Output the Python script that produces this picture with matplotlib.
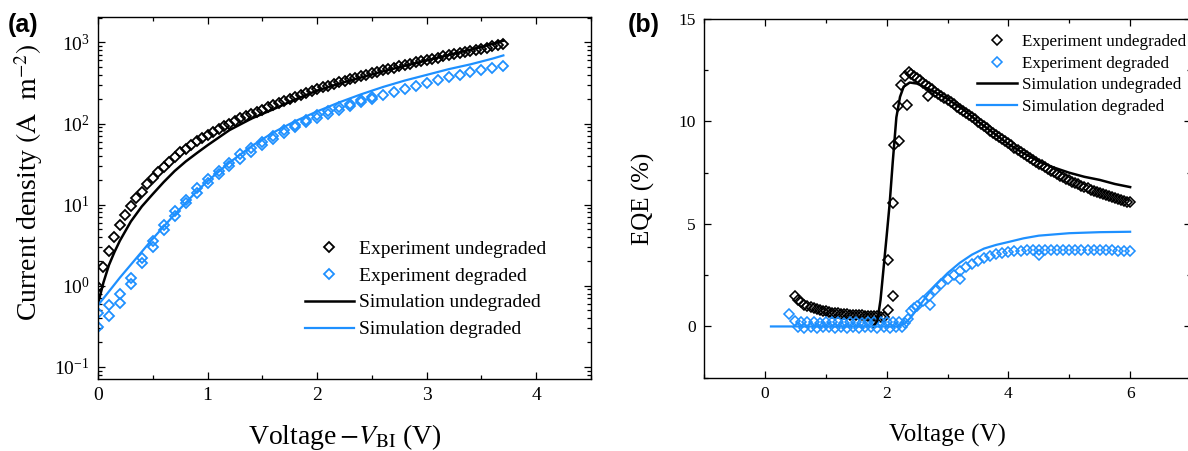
import numpy as np
import matplotlib
matplotlib.use("Agg")
import matplotlib.pyplot as plt
from matplotlib.lines import Line2D
from matplotlib.ticker import MultipleLocator, LogLocator, NullFormatter

plt.rcParams['font.family'] = ['Liberation Serif', 'DejaVu Serif']
plt.rcParams['mathtext.fontset'] = 'stix'

BLACK = '#000000'
BLUE = '#1E90FF'

# ---------------- Panel (a) data ----------------
a_exp_undeg_v = np.round(np.arange(0, 3.701, 0.05), 2)
a_exp_undeg_j = [0.96, 1.7, 2.7, 4.0, 5.6, 7.5, 9.5, 12, 14.5, 18, 21.5, 25, 29, 34, 38.5,
                 44, 49, 55, 61, 67, 73, 79, 86, 93, 100, 108, 116, 124, 132, 140, 148,
                 158, 168, 178, 189, 200, 212, 224, 236, 250, 265, 279, 293, 307, 321,
                 336, 351, 366, 383, 400, 418, 435, 452, 470, 488, 507, 526, 546, 566,
                 586, 607, 628, 650, 672, 695, 718, 742, 766, 790, 815, 840, 866, 893,
                 920, 950]
a_exp_deg_v = [0.0, 0.0, 0.1, 0.1, 0.2, 0.2, 0.3, 0.3, 0.4, 0.4, 0.5, 0.5, 0.6, 0.6, 0.7, 0.7,
               0.8, 0.8, 0.9, 0.9, 1.0, 1.0, 1.1, 1.1, 1.2, 1.2, 1.3, 1.3, 1.4, 1.4, 1.5, 1.5,
               1.6, 1.6, 1.7, 1.7, 1.8, 1.8, 1.9, 1.9, 2.0, 2.0, 2.1, 2.1, 2.2, 2.2, 2.3, 2.3,
               2.4, 2.4, 2.5, 2.5, 2.6, 2.7, 2.8, 2.9, 3.0, 3.1, 3.2, 3.3, 3.4, 3.5, 3.6, 3.7]
a_exp_deg_j = [0.31, 0.46, 0.42, 0.58, 0.62, 0.80, 1.05, 1.25, 1.9, 2.2, 3.0, 3.6, 4.9, 5.6,
               7.2, 8.4, 10.5, 11.5, 14, 16, 18.5, 21, 24, 26, 30, 33, 37, 42, 45, 50, 55, 60,
               65, 71, 77, 84, 90, 97, 103, 112, 118, 126, 132, 142, 148, 158, 165, 175,
               182, 195, 200, 210, 222, 244, 268, 292, 318, 345, 372, 400, 428, 458, 490, 515]
a_sim_undeg_v = [0, 0.05, 0.1, 0.15, 0.2, 0.3, 0.4, 0.5, 0.6, 0.7, 0.8, 0.9, 1.0, 1.2, 1.4,
                 1.6, 1.8, 2.0, 2.2, 2.4, 2.6, 2.8, 3.0, 3.2, 3.4, 3.6, 3.7]
a_sim_undeg_j = [0.6, 1.1, 1.8, 2.6, 3.6, 6.2, 9.5, 13.5, 19, 26, 34, 43, 54, 83, 115,
                 150, 198, 255, 310, 370, 440, 515, 600, 700, 815, 960, 1050]
a_sim_deg_v = [0, 0.1, 0.2, 0.3, 0.4, 0.5, 0.6, 0.7, 0.8, 0.9, 1.0, 1.2, 1.4, 1.6, 1.8,
               2.0, 2.2, 2.4, 2.6, 2.8, 3.0, 3.2, 3.4, 3.6, 3.7]
a_sim_deg_j = [0.575, 0.85, 1.26, 1.82, 2.63, 3.8, 5.37, 7.59, 10.5, 14.5, 19.5, 33, 52.5,
               77.6, 107, 141, 182, 229, 282, 339, 398, 468, 537, 631, 692]

# ---------------- Panel (b) data ----------------
b_exp_undeg_v = [0.50, 0.55, 0.60, 0.65, 0.70, 0.75, 0.80, 0.85, 0.90, 0.95, 1.00, 1.05, 1.10,
                 1.15, 1.20, 1.25, 1.30, 1.35, 1.40, 1.45, 1.50, 1.55, 1.60, 1.65, 1.70, 1.75,
                 1.80, 1.85, 1.90, 1.95,
                 2.03, 2.10, 2.03, 2.10, 2.12, 2.20, 2.18, 2.23, 2.30, 2.34, 2.37, 2.68,
                 2.40, 2.45, 2.50, 2.55, 2.60, 2.65, 2.70, 2.75, 2.80, 2.85, 2.90, 2.95, 3.00,
                 3.05, 3.10, 3.15, 3.20, 3.25, 3.30, 3.35, 3.40, 3.45, 3.50, 3.55, 3.60, 3.65,
                 3.70, 3.75, 3.80, 3.85, 3.90, 3.95, 4.00, 4.05, 4.10, 4.15, 4.20, 4.25, 4.30,
                 4.35, 4.40, 4.45, 4.50, 4.55, 4.60, 4.65, 4.70, 4.75, 4.80, 4.85, 4.90, 4.95,
                 5.00, 5.05, 5.10, 5.15, 5.20, 5.25, 5.30, 5.35, 5.40, 5.45, 5.50, 5.55, 5.60,
                 5.65, 5.70, 5.75, 5.80, 5.85, 5.90, 5.95, 6.00]
b_exp_undeg_eqe = [1.50, 1.30, 1.17, 1.07, 1.00, 0.93, 0.88, 0.83, 0.79, 0.76, 0.73, 0.70, 0.68,
                   0.66, 0.64, 0.62, 0.61, 0.59, 0.58, 0.57, 0.56, 0.55, 0.54, 0.53, 0.52, 0.51,
                   0.50, 0.49, 0.48, 0.47,
                   0.80, 1.50, 3.24, 6.00, 8.85, 9.06, 10.75, 11.80, 12.20, 10.80, 12.40, 11.25,
                   12.30, 12.20, 12.10, 12.00, 11.89, 11.78, 11.67, 11.57, 11.46, 11.36, 11.25,
                   11.15, 11.04, 10.94, 10.83, 10.73, 10.62, 10.52, 10.41, 10.31, 10.20, 10.10,
                   9.99, 9.88, 9.77, 9.67, 9.56, 9.45, 9.35, 9.24, 9.14, 9.03, 8.93, 8.83, 8.73,
                   8.63, 8.53, 8.43, 8.33, 8.23, 8.14, 8.04, 7.95, 7.86, 7.77, 7.69, 7.60, 7.52,
                   7.44, 7.36, 7.28, 7.21, 7.14, 7.07, 7.00, 6.93, 6.87, 6.80, 6.74, 6.68, 6.62,
                   6.56, 6.50, 6.45, 6.40, 6.35, 6.30, 6.25, 6.20, 6.16, 6.12, 6.09, 6.06]
b_exp_deg_v = [0.40, 0.50, 0.60, 0.70, 0.80, 0.90, 1.00, 1.10, 1.20, 1.30, 1.40, 1.50, 1.60,
               1.70, 1.80, 1.90, 2.00, 2.10, 2.20,
               0.55, 0.65, 0.75, 0.85, 0.95, 1.05, 1.15, 1.25, 1.35, 1.45, 1.55, 1.65, 1.75,
               1.85, 1.95, 2.05, 2.15, 2.25,
               2.30, 2.35, 2.40, 2.45, 2.50, 2.60, 2.71, 2.70, 2.80, 2.90, 3.00, 3.10, 3.20,
               3.20, 3.30, 3.40, 3.50, 3.60, 3.70, 3.80, 3.90, 4.00, 4.10, 4.20, 4.30, 4.40,
               4.50, 4.50, 4.60, 4.70, 4.80, 4.90, 5.00, 5.10, 5.20, 5.30, 5.40, 5.50, 5.60,
               5.70, 5.80, 5.90, 6.00]
b_exp_deg_eqe = [0.63, 0.28, 0.22, 0.20, 0.21, 0.19, 0.20, 0.22, 0.20, 0.19, 0.21, 0.20, 0.19,
                 0.20, 0.21, 0.20, 0.22, 0.20, 0.23,
                 -0.05, -0.06, -0.05, -0.06, -0.05, -0.05, -0.06, -0.05, -0.06, -0.05, -0.06,
                 -0.05, -0.05, -0.06, -0.05, -0.06, -0.05, -0.04,
                 0.15, 0.35, 0.75, 0.90, 1.00, 1.25, 1.04, 1.50, 1.78, 2.05, 2.30, 2.52, 2.72,
                 2.30, 2.90, 3.06, 3.20, 3.33, 3.43, 3.52, 3.58, 3.63, 3.67, 3.70, 3.72, 3.73,
                 3.74, 3.50, 3.75, 3.75, 3.75, 3.74, 3.74, 3.74, 3.73, 3.73, 3.72, 3.72, 3.71,
                 3.71, 3.70, 3.70, 3.70]
b_sim_undeg_v = [1.78, 1.85, 1.90, 2.00, 2.05, 2.10, 2.16, 2.22, 2.28, 2.38, 2.50, 2.75, 3.00,
                 3.25, 3.50, 3.75, 4.00, 4.25, 4.50, 4.75, 5.00, 5.25, 5.50, 5.75, 6.00]
b_sim_undeg_eqe = [0.0, 0.3, 1.3, 4.4, 6.0, 8.0, 10.2, 11.2, 11.7, 11.9, 11.85, 11.5, 11.1,
                   10.6, 10.0, 9.45, 8.9, 8.45, 8.05, 7.75, 7.5, 7.3, 7.15, 6.95, 6.8]
b_sim_deg_v = [0.1, 2.2, 2.3, 2.4, 2.5, 2.6, 2.7, 2.8, 3.0, 3.2, 3.4, 3.6, 3.8, 4.0, 4.25,
               4.5, 5.0, 5.5, 6.0]
b_sim_deg_eqe = [0.0, 0.0, 0.15, 0.45, 0.85, 1.25, 1.65, 2.0, 2.6, 3.1, 3.5, 3.8, 3.98, 4.12,
                 4.3, 4.43, 4.55, 4.6, 4.62]

labels = ['Experiment undegraded', 'Experiment degraded',
          'Simulation undegraded', 'Simulation degraded']

W, H = 1188, 451
fig = plt.figure(figsize=(W / 100, H / 100), dpi=100)

def style_axes(ax, fs):
    for s in ax.spines.values():
        s.set_linewidth(1.0)
    ax.tick_params(which='both', direction='in', top=True, right=True,
                   labelsize=fs, width=0.9, pad=6)
    ax.tick_params(which='major', length=5)
    ax.tick_params(which='minor', length=3)

MSA, MEWA = 5.6, 1.3
MSB, MEWB = 5.6, 1.15

# ---- Panel (a)
ax1 = fig.add_axes([98 / W, 1 - 379 / H, (591 - 98) / W, (379 - 17.3) / H])
ax1.set_yscale('log')
ax1.plot(a_exp_undeg_v, a_exp_undeg_j, linestyle='none', marker='D', ms=MSA,
         mfc='none', mec=BLACK, mew=MEWA)
ax1.plot(a_exp_deg_v, a_exp_deg_j, linestyle='none', marker='D', ms=MSA,
         mfc='none', mec=BLUE, mew=MEWA)
ax1.plot(a_sim_undeg_v, a_sim_undeg_j, color=BLACK, lw=1.8)
ax1.plot(a_sim_deg_v, a_sim_deg_j, color=BLUE, lw=1.6)
ax1.set_xlim(0, 4.5)
ax1.set_ylim(10 ** -1.15, 10 ** 3.31)
ax1.xaxis.set_major_locator(MultipleLocator(1))
ax1.xaxis.set_minor_locator(MultipleLocator(0.5))
ax1.yaxis.set_major_locator(LogLocator(base=10, numticks=10))
ax1.yaxis.set_minor_locator(LogLocator(base=10, subs=np.arange(2, 10), numticks=20))
ax1.yaxis.set_minor_formatter(NullFormatter())
style_axes(ax1, 14)
ax1.set_ylabel(r'Current density$\ \left(\mathrm{A}\ \ \mathrm{m}^{-2}\right)$',
               fontsize=20)
ax1.set_xlabel('Voltage$\\,$$-$$V_{\\mathrm{BI}}$ (V)', fontsize=20)
ax1.yaxis.set_label_coords(-0.108, 0.545)
ax1.xaxis.set_label_coords(0.5, -0.12)

hA = [Line2D([], [], ls='none', marker='D', ms=MSA, mfc='none', mec=BLACK, mew=MEWA),
      Line2D([], [], ls='none', marker='D', ms=MSA, mfc='none', mec=BLUE, mew=MEWA),
      Line2D([], [], color=BLACK, lw=1.8),
      Line2D([], [], color=BLUE, lw=1.6)]
fig.legend(hA, labels, loc='upper left', bbox_to_anchor=(305 / W, 1 - 240 / H),
           bbox_transform=fig.transFigure, frameon=False, fontsize=14,
           borderpad=0, borderaxespad=0, handlelength=2.5, handletextpad=0.3,
           labelspacing=0.48, numpoints=1)

# ---- Panel (b)
ax2 = fig.add_axes([704 / W, 1 - 377.7 / H, (1191 - 704) / W, (377.7 - 19) / H])
ax2.plot(b_exp_undeg_v, b_exp_undeg_eqe, linestyle='none', marker='D', ms=MSB,
         mfc='none', mec=BLACK, mew=MEWB)
ax2.plot(b_exp_deg_v, b_exp_deg_eqe, linestyle='none', marker='D', ms=MSB,
         mfc='none', mec=BLUE, mew=MEWB)
ax2.plot(b_sim_undeg_v, b_sim_undeg_eqe, color=BLACK, lw=1.8)
ax2.plot(b_sim_deg_v, b_sim_deg_eqe, color=BLUE, lw=1.6)
ax2.set_xlim(-1, 7)
ax2.set_ylim(-2.5, 15)
ax2.xaxis.set_major_locator(MultipleLocator(2))
ax2.xaxis.set_minor_locator(MultipleLocator(1))
ax2.yaxis.set_major_locator(MultipleLocator(5))
ax2.yaxis.set_minor_locator(MultipleLocator(2.5))
style_axes(ax2, 12.5)
ax2.set_ylabel('EQE (%)', fontsize=18)
ax2.set_xlabel('Voltage (V)', fontsize=18)
ax2.yaxis.set_label_coords(-0.10, 0.5)
ax2.xaxis.set_label_coords(0.5, -0.13)

hB = [Line2D([], [], ls='none', marker='D', ms=5.0, mfc='none', mec=BLACK, mew=MEWB),
      Line2D([], [], ls='none', marker='D', ms=5.0, mfc='none', mec=BLUE, mew=MEWB),
      Line2D([], [], color=BLACK, lw=1.8),
      Line2D([], [], color=BLUE, lw=1.6)]
fig.legend(hB, labels, loc='upper left', bbox_to_anchor=(977 / W, 1 - 34 / H),
           bbox_transform=fig.transFigure, frameon=False, fontsize=12.3,
           borderpad=0, borderaxespad=0, handlelength=2.35, handletextpad=0.3,
           labelspacing=0.33, numpoints=1)

fig.text(8 / W, 1 - 25 / H, '(a)', fontsize=18, fontweight='bold',
         family=['Liberation Sans', 'DejaVu Sans'], va='center', ha='left')
fig.text(628 / W, 1 - 25 / H, '(b)', fontsize=18, fontweight='bold',
         family=['Liberation Sans', 'DejaVu Sans'], va='center', ha='left')

fig.savefig('out.png', dpi=100)
